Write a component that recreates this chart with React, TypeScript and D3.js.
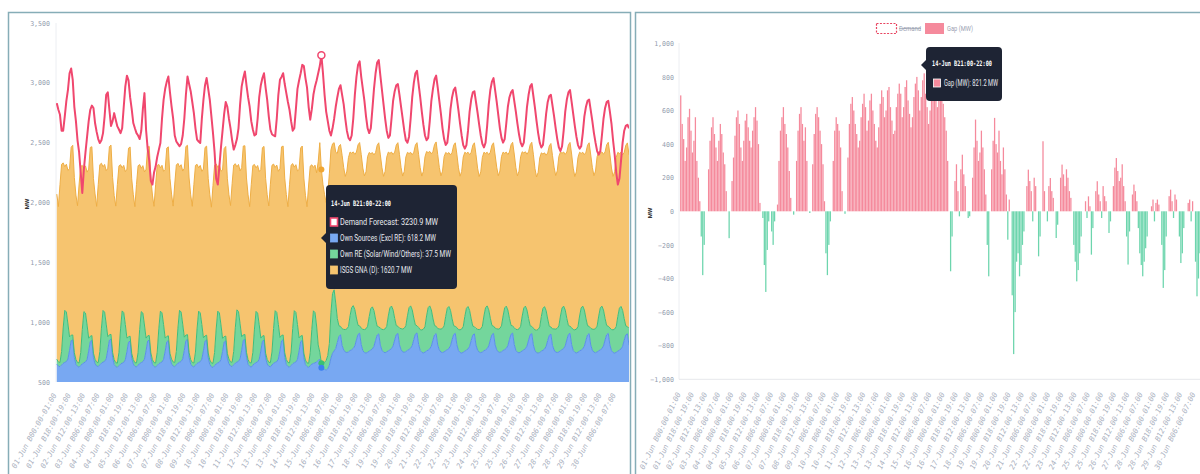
import React, { useEffect, useRef } from 'react';
import * as d3 from 'd3';

const MONO = '"DejaVu Sans Mono", monospace';
const SANS = 'Roboto, "Noto Sans", sans-serif';

// one x label every 18 hourly blocks
const xTickLabels = [
  '01-Jun B00:00-01:00', '01-Jun B18:00-19:00', '02-Jun B12:00-13:00', '03-Jun B06:00-07:00',
  '04-Jun B00:00-01:00', '04-Jun B18:00-19:00', '05-Jun B12:00-13:00', '06-Jun B06:00-07:00',
  '07-Jun B00:00-01:00', '07-Jun B18:00-19:00', '08-Jun B12:00-13:00', '09-Jun B06:00-07:00',
  '10-Jun B00:00-01:00', '10-Jun B18:00-19:00', '11-Jun B12:00-13:00', '12-Jun B06:00-07:00',
  '13-Jun B00:00-01:00', '13-Jun B18:00-19:00', '14-Jun B12:00-13:00', '15-Jun B06:00-07:00',
  '16-Jun B00:00-01:00', '16-Jun B18:00-19:00', '17-Jun B12:00-13:00', '18-Jun B06:00-07:00',
  '19-Jun B00:00-01:00', '19-Jun B18:00-19:00', '20-Jun B12:00-13:00', '21-Jun B06:00-07:00',
  '22-Jun B00:00-01:00', '22-Jun B18:00-19:00', '23-Jun B12:00-13:00', '24-Jun B06:00-07:00',
  '25-Jun B00:00-01:00', '25-Jun B18:00-19:00', '26-Jun B12:00-13:00', '27-Jun B06:00-07:00',
  '28-Jun B00:00-01:00', '28-Jun B18:00-19:00', '29-Jun B12:00-13:00', '30-Jun B06:00-07:00',
];
const yTicksLeft = [500, 1000, 1500, 2000, 2500, 3000, 3500];
const yTicksRight = [-1000, -800, -600, -400, -200, 0, 200, 400, 600, 800, 1000];

// values below are two-hourly samples (blocks 01, 03, ... 23), one row per day
const ownSources = [
  [650, 632, 628, 642, 656, 664, 670, 692, 765, 845, 852, 705],
  [648, 630, 624, 638, 652, 660, 668, 688, 758, 838, 848, 702],
  [652, 634, 628, 644, 658, 666, 672, 694, 768, 850, 858, 708],
  [646, 628, 622, 636, 650, 658, 664, 686, 754, 832, 842, 698],
  [650, 630, 626, 640, 655, 662, 670, 690, 760, 842, 850, 704],
  [647, 629, 624, 639, 653, 661, 667, 689, 757, 836, 846, 700],
  [651, 633, 627, 643, 657, 665, 671, 693, 764, 846, 855, 706],
  [649, 631, 625, 641, 655, 663, 669, 691, 761, 841, 851, 703],
  [645, 627, 621, 637, 651, 659, 665, 687, 755, 834, 844, 699],
  [652, 634, 628, 644, 658, 666, 672, 694, 766, 848, 856, 707],
  [648, 630, 625, 640, 654, 662, 668, 690, 759, 840, 849, 702],
  [650, 632, 627, 642, 656, 664, 670, 692, 762, 844, 853, 705],
  [647, 629, 624, 639, 653, 661, 667, 689, 758, 838, 848, 701],
  [645, 628, 622, 636, 650, 655, 660, 668, 680, 690, 618.2, 610],
  [605, 600, 610, 640, 700, 740, 760, 780, 830, 880, 895, 805],
  [768, 750, 746, 752, 762, 770, 780, 802, 852, 898, 908, 812],
  [762, 746, 742, 748, 758, 766, 776, 798, 848, 892, 902, 808],
  [766, 749, 745, 751, 761, 769, 779, 801, 851, 896, 906, 811],
  [770, 752, 748, 754, 764, 772, 782, 804, 855, 900, 910, 815],
  [764, 747, 743, 749, 759, 767, 777, 799, 849, 894, 904, 809],
  [767, 750, 746, 752, 762, 770, 780, 802, 852, 897, 907, 812],
  [763, 746, 742, 748, 758, 766, 776, 798, 847, 892, 902, 808],
  [766, 749, 745, 751, 761, 769, 779, 801, 851, 896, 906, 811],
  [769, 751, 747, 753, 763, 771, 781, 803, 854, 899, 909, 814],
  [765, 748, 744, 750, 760, 768, 778, 800, 850, 895, 905, 810],
  [762, 745, 741, 747, 757, 765, 775, 797, 846, 890, 900, 806],
  [767, 750, 746, 752, 762, 770, 780, 802, 852, 897, 907, 812],
  [764, 747, 743, 749, 759, 767, 777, 799, 849, 894, 904, 809],
  [766, 749, 745, 751, 761, 769, 779, 801, 851, 896, 906, 811],
  [763, 746, 742, 748, 758, 766, 776, 798, 848, 893, 903, 808],
].flat();

const ownRE = [
  [40, 34, 36, 112, 295, 435, 415, 292, 112, 46, 41, 40],
  [39, 33, 35, 108, 288, 428, 408, 288, 108, 44, 40, 39],
  [38, 32, 34, 110, 292, 432, 412, 290, 110, 45, 40, 40],
  [40, 34, 36, 112, 294, 436, 416, 293, 113, 46, 41, 41],
  [37, 31, 34, 107, 286, 426, 406, 286, 107, 44, 39, 39],
  [39, 33, 35, 110, 291, 431, 411, 290, 110, 45, 40, 40],
  [40, 34, 36, 111, 293, 434, 414, 291, 111, 46, 41, 40],
  [38, 32, 34, 109, 289, 429, 409, 289, 109, 44, 40, 39],
  [39, 33, 35, 110, 292, 433, 413, 291, 110, 45, 40, 40],
  [40, 34, 36, 112, 295, 437, 417, 293, 112, 46, 41, 41],
  [38, 32, 34, 108, 288, 428, 408, 288, 108, 44, 39, 39],
  [39, 33, 35, 110, 291, 432, 412, 290, 110, 45, 40, 40],
  [40, 34, 36, 111, 294, 435, 415, 292, 111, 46, 41, 40],
  [38, 32, 34, 108, 290, 440, 420, 300, 130, 60, 37.5, 40],
  [60, 80, 110, 180, 380, 500, 510, 380, 200, 90, 70, 140],
  [172, 188, 198, 212, 292, 352, 358, 302, 182, 76, 61, 138],
  [178, 192, 202, 218, 288, 348, 352, 298, 178, 74, 59, 142],
  [174, 189, 199, 214, 291, 351, 356, 301, 181, 75, 60, 139],
  [176, 191, 201, 216, 289, 349, 354, 299, 179, 75, 60, 141],
  [173, 188, 198, 213, 293, 354, 359, 303, 183, 77, 62, 137],
  [177, 192, 202, 217, 287, 347, 351, 297, 177, 73, 58, 143],
  [175, 190, 200, 215, 290, 350, 355, 300, 180, 75, 60, 140],
  [174, 189, 199, 214, 292, 352, 357, 302, 182, 76, 61, 139],
  [176, 191, 201, 216, 288, 348, 353, 298, 178, 74, 59, 141],
  [175, 190, 200, 215, 291, 351, 356, 301, 181, 75, 60, 140],
  [173, 188, 198, 213, 290, 350, 355, 300, 180, 75, 60, 138],
  [177, 192, 202, 217, 289, 349, 354, 299, 179, 74, 59, 142],
  [174, 189, 199, 214, 292, 352, 357, 302, 182, 76, 61, 139],
  [176, 191, 201, 216, 290, 350, 355, 300, 180, 75, 60, 141],
  [175, 190, 200, 215, 291, 351, 356, 301, 181, 75, 60, 140],
].flat();

const isgsGna = [
  [1380, 1300, 1485, 1565, 1380, 1200, 1235, 1285, 1405, 1570, 1585, 1465],
  [1375, 1310, 1495, 1555, 1370, 1195, 1230, 1278, 1412, 1578, 1578, 1458],
  [1382, 1302, 1488, 1562, 1378, 1200, 1234, 1282, 1408, 1572, 1582, 1462],
  [1372, 1308, 1492, 1558, 1372, 1196, 1230, 1279, 1411, 1576, 1581, 1459],
  [1378, 1304, 1490, 1560, 1376, 1198, 1232, 1280, 1410, 1575, 1580, 1460],
  [1376, 1306, 1489, 1561, 1374, 1197, 1233, 1281, 1409, 1574, 1579, 1461],
  [1379, 1303, 1491, 1559, 1377, 1199, 1231, 1279, 1411, 1576, 1582, 1459],
  [1377, 1305, 1490, 1560, 1375, 1198, 1232, 1280, 1410, 1575, 1580, 1460],
  [1381, 1301, 1486, 1564, 1379, 1201, 1236, 1284, 1406, 1571, 1584, 1464],
  [1374, 1307, 1493, 1557, 1371, 1195, 1229, 1277, 1413, 1578, 1577, 1457],
  [1378, 1304, 1490, 1561, 1376, 1199, 1233, 1281, 1409, 1574, 1581, 1461],
  [1376, 1306, 1491, 1559, 1374, 1197, 1231, 1279, 1411, 1576, 1579, 1459],
  [1380, 1302, 1488, 1562, 1378, 1200, 1234, 1283, 1407, 1572, 1583, 1463],
  [1377, 1305, 1490, 1560, 1375, 1198, 1232, 1280, 1530, 1750, 1620.7, 1500],
  [1400, 1320, 1350, 1420, 1360, 1250, 1230, 1260, 1380, 1500, 1520, 1450],
  [1352, 1280, 1318, 1412, 1368, 1290, 1285, 1298, 1388, 1508, 1532, 1452],
  [1348, 1285, 1312, 1418, 1372, 1294, 1289, 1302, 1392, 1512, 1538, 1448],
  [1351, 1281, 1316, 1414, 1369, 1291, 1286, 1299, 1389, 1509, 1534, 1451],
  [1346, 1278, 1310, 1410, 1366, 1288, 1283, 1296, 1386, 1506, 1530, 1446],
  [1354, 1286, 1320, 1420, 1374, 1296, 1291, 1304, 1394, 1514, 1540, 1454],
  [1349, 1281, 1314, 1414, 1369, 1291, 1286, 1299, 1389, 1509, 1534, 1449],
  [1352, 1284, 1317, 1417, 1372, 1294, 1289, 1302, 1392, 1512, 1537, 1452],
  [1347, 1279, 1312, 1412, 1367, 1289, 1284, 1297, 1387, 1507, 1532, 1447],
  [1350, 1282, 1315, 1415, 1370, 1292, 1287, 1300, 1390, 1510, 1535, 1450],
  [1353, 1285, 1318, 1418, 1373, 1295, 1290, 1303, 1393, 1513, 1538, 1453],
  [1348, 1280, 1313, 1413, 1368, 1290, 1285, 1298, 1388, 1508, 1533, 1448],
  [1351, 1283, 1316, 1416, 1371, 1293, 1288, 1301, 1391, 1511, 1536, 1451],
  [1349, 1281, 1314, 1414, 1369, 1291, 1286, 1299, 1389, 1509, 1534, 1449],
  [1352, 1284, 1317, 1417, 1372, 1294, 1289, 1302, 1392, 1512, 1537, 1452],
  [1350, 1282, 1315, 1415, 1370, 1292, 1287, 1300, 1390, 1510, 1535, 1450],
].flat();

const demandForecast = [
  [2830, 2775, 2733, 2600, 2600, 2720, 2850, 2942, 3080, 3120, 3025, 2800],
  [2680, 2520, 2420, 2250, 2080, 2280, 2420, 2550, 2680, 2775, 2810, 2790],
  [2664, 2590, 2530, 2497, 2520, 2580, 2720, 2900, 2920, 2775, 2640, 2680],
  [2747, 2690, 2636, 2610, 2580, 2620, 2800, 2970, 3060, 3020, 2880, 2780],
  [2664, 2620, 2580, 2560, 2530, 2600, 2780, 2914, 2608, 2450, 2350, 2180],
  [2150, 2250, 2300, 2380, 2440, 2497, 2700, 2858, 2950, 3010, 3053, 2920],
  [2803, 2700, 2560, 2510, 2490, 2470, 2490, 2560, 2700, 2900, 3053, 2990],
  [2930, 2840, 2747, 2620, 2525, 2510, 2497, 2700, 2858, 2980, 3040, 2950],
  [2858, 2720, 2580, 2420, 2200, 2150, 2300, 2460, 2600, 2740, 2840, 2800],
  [2700, 2620, 2520, 2442, 2480, 2530, 2620, 2820, 2970, 3040, 3095, 2980],
  [2880, 2800, 2680, 2610, 2560, 2570, 2700, 2880, 2980, 3040, 3080, 2960],
  [2858, 2720, 2610, 2570, 2560, 2553, 2700, 2900, 3025, 3050, 3080, 2990],
  [2914, 2840, 2775, 2680, 2600, 2620, 2780, 2950, 3020, 3080, 3150, 3140],
  [3040, 2960, 2800, 2692, 2780, 2900, 2970, 3020, 3080, 3140, 3230.9, 3080],
  [2900, 2760, 2680, 2600, 2560, 2620, 2700, 2800, 2880, 2950, 2980, 2900],
  [2820, 2700, 2600, 2540, 2520, 2560, 2700, 2900, 3050, 3150, 3180, 3050],
  [2950, 2850, 2720, 2620, 2580, 2620, 2780, 2950, 3080, 3170, 3190, 3060],
  [2940, 2820, 2700, 2600, 2540, 2560, 2700, 2850, 2930, 2980, 2990, 2900],
  [2800, 2700, 2600, 2520, 2500, 2550, 2700, 2880, 3000, 3080, 3100, 2990],
  [2880, 2760, 2650, 2560, 2520, 2540, 2680, 2850, 2950, 3030, 3060, 2960],
  [2850, 2740, 2620, 2530, 2480, 2500, 2620, 2780, 2880, 2940, 2960, 2870],
  [2770, 2660, 2560, 2480, 2450, 2480, 2600, 2760, 2860, 2920, 2930, 2840],
  [2750, 2650, 2560, 2490, 2460, 2500, 2640, 2820, 2940, 3010, 3040, 2940],
  [2840, 2730, 2620, 2540, 2500, 2530, 2660, 2800, 2880, 2920, 2940, 2850],
  [2760, 2660, 2570, 2500, 2470, 2500, 2640, 2800, 2900, 2970, 2990, 2890],
  [2790, 2680, 2580, 2500, 2460, 2480, 2600, 2740, 2840, 2890, 2900, 2810],
  [2720, 2620, 2530, 2460, 2430, 2470, 2600, 2760, 2860, 2920, 2940, 2840],
  [2740, 2640, 2550, 2480, 2450, 2470, 2580, 2720, 2800, 2850, 2860, 2770],
  [2680, 2580, 2500, 2430, 2400, 2430, 2560, 2700, 2790, 2840, 2850, 2760],
  [2660, 2520, 2400, 2250, 2150, 2200, 2350, 2500, 2600, 2640, 2650, 2620],
].flat();

const gapMW = [
  [690, 520, 430, 300, 380, 560, 610, 480, 350, 420, 560, 300],
  [200, 60, -150, -380, -200, 0, 0, 250, 420, 500, 560, 460],
  [380, 300, 420, 520, 460, 350, 280, 120, 0, -160, 0, 180],
  [320, 450, 560, 600, 520, 380, 300, 420, 540, 580, 500, 420],
  [380, 480, 560, 620, 540, 400, 50, 0, -40, -320, -480, -230],
  [-60, 0, -120, -200, -60, 0, 40, 300, 480, 560, 620, 520],
  [460, 380, 240, 80, 0, -20, 0, 300, 480, 580, 620, 520],
  [420, 500, 300, 0, -10, 0, 280, 460, 580, 620, 560, 480],
  [400, 280, 60, -250, -380, -200, -60, 0, 300, 480, 560, 520],
  [480, 380, 120, 0, -15, 0, 320, 520, 640, 680, 600, 520],
  [460, 380, 420, 560, 640, 700, 620, 480, 540, 660, 700, 600],
  [520, 420, 380, 500, 640, 720, 680, 560, 600, 720, 740, 620],
  [540, 460, 480, 620, 700, 760, 700, 560, 620, 740, 780, 660],
  [580, 500, 560, 680, 760, 800, 720, 600, 680, 780, 821.2, 700],
  [620, 520, 600, 700, 780, 820, 740, 620, 700, 800, 760, 640],
  [560, 480, 300, 0, -357, -150, 0, 180, 280, 120, -30, 250],
  [337, 220, 150, 0, -40, -30, 0, 200, 380, 546, 420, 300],
  [350, 480, 380, 250, 100, -200, -387, 0, 250, 420, 556, 400],
  [350, 480, 300, 220, 380, 250, 100, -169, 70, 0, -500, -850],
  [-600, -300, -250, -387, -320, -200, -120, 0, 150, 248, 180, 120],
  [-60, 200, 150, 0, -268, -150, 0, 417, 120, 0, -60, 150],
  [198, 120, 80, 0, -159, -80, 0, 200, 278, 220, 150, 250],
  [200, 120, 80, 0, -200, -300, -417, -350, -250, -150, 0, 0],
  [60, -40, 89, 30, -258, -100, 0, 120, 179, 100, 60, -40],
  [150, 90, 60, 0, -129, -60, 0, 150, 260, 317, 240, 180],
  [200, 280, 150, 60, -150, -317, -120, 0, 100, 159, 120, 60],
  [-100, -250, -320, -387, -300, -220, -150, 0, 0, 30, 70, -60],
  [50, 70, 40, 0, -200, -456, -350, -150, 0, 90, 129, 60],
  [-40, 100, 70, 0, -150, -308, -250, -100, 0, 0, 50, 70],
  [-60, 60, 0, -300, -506, -400, -250, -150, -80, 0, 40, 20],
].flat();

const HOVER = 166; // 14-Jun B21:00-22:00
const sampleHour = (i: number) => i * 2 + 1;

const C = {
  demand: '#f0476e',
  own: '#78a8f2', ownLine: '#5a8fe8',
  re: '#74d69c', reLine: '#3fbd7c',
  isgs: '#f6c46f', isgsLine: '#eeae45',
  gapPos: '#f58a9c', gapNeg: '#6dd5ad',
  tick: '#939cae', frame: '#86adb7', tip: '#1e2434',
};

// left panel scales
const xL = d3.scaleLinear().domain([0, 719]).range([56, 629]);
const yL = d3.scaleLinear().domain([500, 3500]).range([382, 23]);
// right panel scales
const xR = d3.scaleLinear().domain([0, 720]).range([680, 1208]);
const yR = d3.scaleLinear().domain([-1000, 1000]).range([379.3, 43.3]);

export default function App() {
  const yAxL = useRef<SVGGElement>(null);
  const xAxL = useRef<SVGGElement>(null);
  const yAxR = useRef<SVGGElement>(null);
  const xAxR = useRef<SVGGElement>(null);

  useEffect(() => {
    const tickHours = xTickLabels.map((_, i) => i * 18);
    const styleY = (g: any) => {
      g.select('.domain').remove();
      g.attr('font-family', MONO).attr('font-size', 6.6);
      g.selectAll('text').attr('fill', C.tick);
    };
    d3.select(yAxL.current).call(
      d3.axisLeft(yL).tickValues(yTicksLeft).tickSize(0).tickPadding(6).tickFormat(d3.format(','))
    ).call(styleY);
    d3.select(yAxR.current).call(
      d3.axisLeft(yR).tickValues(yTicksRight).tickSize(0).tickPadding(6).tickFormat(d3.format(','))
    ).call(styleY);

    const styleX = (angle: number) => (g: any) => {
      g.select('.domain').remove();
      g.attr('font-family', MONO).attr('font-size', 7.4).attr('font-style', 'italic');
      g.selectAll('text')
        .attr('fill', '#aab1c0')
        .attr('transform', `rotate(${angle})`)
        .attr('text-anchor', 'end')
        .attr('x', -2).attr('y', 0).attr('dy', '0.35em');
    };
    d3.select(xAxL.current).call(
      d3.axisBottom(xL).tickValues(tickHours).tickSize(0).tickFormat((_, i) => xTickLabels[i])
    ).call(styleX(-61));
    d3.select(xAxR.current).call(
      d3.axisBottom(xR).tickValues(tickHours).tickSize(0).tickFormat((_, i) => xTickLabels[i])
    ).call(styleX(-64));
  }, []);

  const rows = ownSources.map((v, i) => ({ h: sampleHour(i), own: v, re: ownRE[i], isgs: isgsGna[i] }));
  const series = d3.stack<any>().keys(['own', 're', 'isgs'])(rows);
  const area = d3.area<any>().x(d => xL(d.data.h)).y0(d => yL(d[0])).y1(d => yL(d[1]));
  const topLine = d3.line<any>().x(d => xL(d.data.h)).y(d => yL(d[1]));
  const demandLine = d3.line<number>().x((_, i) => xL(sampleHour(i))).y(d => yL(d));
  const fills = [C.own, C.re, C.isgs];
  const strokes = [C.ownLine, C.reLine, C.isgsLine];

  const hx = xL(sampleHour(HOVER));
  const barW = xR(2) - xR(0) - 0.2;

  return (
    <div style={{ position: 'absolute', left: 0, top: 0 }}>
      <svg width={1200} height={474} style={{ display: 'block', background: '#fff' }}>
        <defs>
          <clipPath id="clipL"><rect x={56} y={10} width={573} height={372} /></clipPath>
          <clipPath id="clipR"><rect x={679} y={10} width={521} height={380} /></clipPath>
        </defs>

        {/* panel frames */}
        <rect x={8.5} y={12.5} width={622} height={470} fill="none" stroke={C.frame} strokeWidth={1.5} />
        <rect x={635.5} y={12.5} width={580} height={470} fill="none" stroke={C.frame} strokeWidth={1.5} />

        {/* ---- left: supply stack + demand ---- */}
        <line x1={56} x2={56} y1={23} y2={382} stroke="#eceef2" />
        <g clipPath="url(#clipL)">
          {series.map((s, k) => (
            <path key={'a' + k} d={area(s) || ''} fill={fills[k]} />
          ))}
          {series.map((s, k) => (
            <path key={'l' + k} d={topLine(s) || ''} fill="none" stroke={strokes[k]} strokeWidth={1} />
          ))}
          <path d={demandLine(demandForecast) || ''} fill="none" stroke={C.demand} strokeWidth={2} strokeLinejoin="round" />
        </g>
        <g ref={yAxL} transform="translate(56,0)" />
        <g ref={xAxL} transform="translate(-1,392)" />
        <text transform="translate(29,204) rotate(-90)" textAnchor="middle" fontFamily={SANS} fontSize={6} fontWeight="bold" fill="#333">MW</text>

        {/* hover markers */}
        <circle cx={hx} cy={yL(series[2][HOVER][1])} r={3} fill="#f0a632" />
        <circle cx={hx} cy={yL(series[1][HOVER][1])} r={3} fill="#39c073" />
        <circle cx={hx} cy={yL(series[0][HOVER][1])} r={3} fill="#3c7ff0" />
        <circle cx={hx} cy={yL(demandForecast[HOVER])} r={3.5} fill="#fff" stroke={C.demand} strokeWidth={1.5} />

        {/* left tooltip */}
        <g>
          <rect x={326} y={185} width={131} height={104} rx={4} fill={C.tip} />
          <path d="M326,233 L321,238 L326,243 Z" fill={C.tip} />
          <text x={331} y={206} fontFamily={MONO} fontWeight="bold" fontSize={7.4} fill="#fff" textLength={60} lengthAdjust="spacingAndGlyphs">14-Jun B21:00-22:00</text>
          {[
            ['Demand Forecast: 3230.9 MW', C.demand, 98],
            ['Own Sources (Excl RE): 618.2 MW', C.own, 96],
            ['Own RE (Solar/Wind/Others): 37.5 MW', C.re, 111],
            ['ISGS GNA (D): 1620.7 MW', C.isgs, 72],
          ].map(([t, c, w], i) => (
            <g key={i} transform={`translate(0,${222 + i * 16})`}>
              <rect x={330.5} y={-4} width={7} height={8} fill={i === 0 ? '#fff' : (c as string)} stroke={c as string} strokeWidth={i === 0 ? 1.6 : 0.8} />
              <text x={340} y={3.2} fontFamily={SANS} fontSize={8.6} fill="#e8eaf0" textLength={w as number} lengthAdjust="spacingAndGlyphs">{t}</text>
            </g>
          ))}
        </g>

        {/* ---- right: gap bars ---- */}
        <line x1={679} x2={679} y1={43} y2={379.3} stroke="#eceef2" />
        <line x1={679} x2={1200} y1={379.3} y2={379.3} stroke="#e6e8ec" />
        <g clipPath="url(#clipR)">
          {gapMW.map((v, i) => (
            <rect
              key={i}
              x={xR(sampleHour(i) - 1) + 0.1}
              width={barW}
              y={v >= 0 ? yR(v) : yR(0)}
              height={Math.abs(yR(v) - yR(0))}
              fill={v >= 0 ? C.gapPos : C.gapNeg}
            />
          ))}
        </g>
        <g ref={yAxR} transform="translate(680,0)" />
        <g ref={xAxR} transform="translate(-1,391)" />
        <text transform="translate(652,213) rotate(-90)" textAnchor="middle" fontFamily={SANS} fontSize={6} fontWeight="bold" fill="#333">MW</text>

        {/* legend */}
        <rect x={876.5} y={23.5} width={20} height={10} fill="#fff" stroke="#e8435f" strokeWidth={1.2} strokeDasharray="2 1.4" />
        <text x={899} y={31} fontFamily={SANS} fontSize={7.5} fill="#9aa1b1" textDecoration="line-through" textLength={22} lengthAdjust="spacingAndGlyphs">Demand</text>
        <rect x={925} y={23} width={19} height={11} fill={C.gapPos} />
        <text x={947} y={31} fontFamily={SANS} fontSize={7.5} fill="#9aa1b1" textLength={26} lengthAdjust="spacingAndGlyphs">Gap (MW)</text>

        {/* right tooltip */}
        <g>
          <rect x={926} y={47} width={76} height={54} rx={4} fill={C.tip} />
          <path d="M926,60 L921,65 L926,70 Z" fill={C.tip} />
          <text x={932} y={66} fontFamily={MONO} fontWeight="bold" fontSize={7.4} fill="#fff" textLength={60} lengthAdjust="spacingAndGlyphs">14-Jun B21:00-22:00</text>
          <rect x={933.5} y={79} width={7} height={8} fill={C.gapPos} stroke="#fff" strokeWidth={0.8} />
          <text x={944} y={86} fontFamily={SANS} fontSize={8.6} fill="#e8eaf0" textLength={54} lengthAdjust="spacingAndGlyphs">Gap (MW): 821.2 MW</text>
        </g>
      </svg>
    </div>
  );
}
